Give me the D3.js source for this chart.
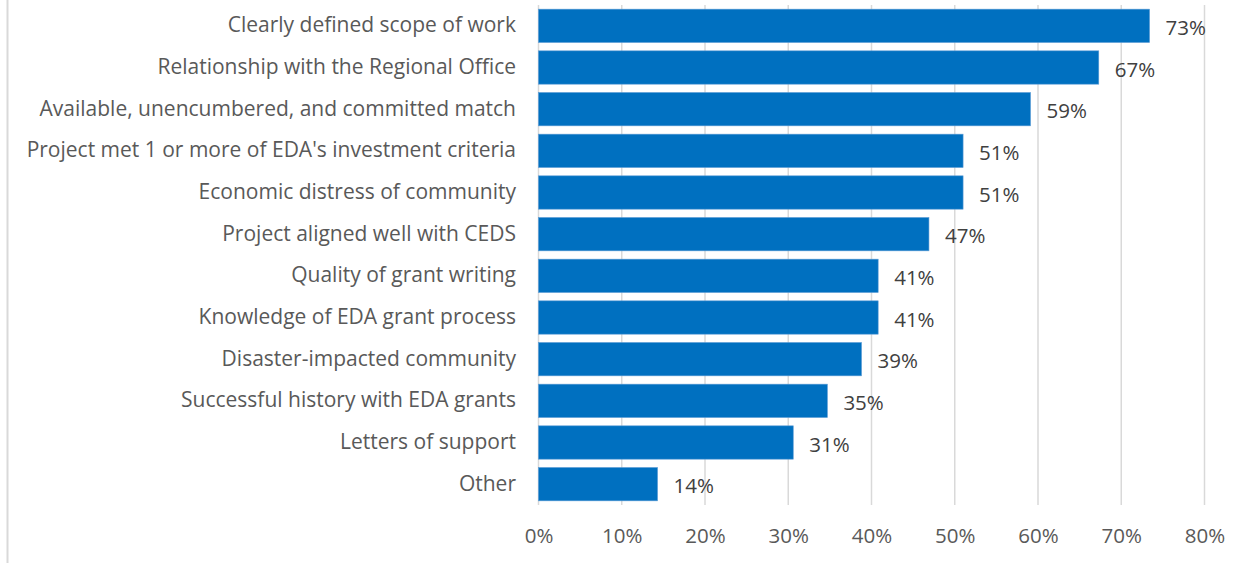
<!DOCTYPE html>
<html>
<head>
  <meta charset="utf-8">
  <script src="https://d3js.org/d3.v7.min.js"></script>
  <style>
    body { margin: 0; background: #fff; }
    svg { display: block; font-family: "Open Sans", sans-serif; }
  </style>
</head>
<body>
<svg id="chart"></svg>
<script>
  var w = 1244, h = 563;

  // data (share of respondents)
  var categories = ["Clearly defined scope of work", "Relationship with the Regional Office",
    "Available, unencumbered, and committed match", "Project met 1 or more of EDA's investment criteria",
    "Economic distress of community", "Project aligned well with CEDS", "Quality of grant writing",
    "Knowledge of EDA grant process", "Disaster-impacted community", "Successful history with EDA grants",
    "Letters of support", "Other"];
  var values = [0.734, 0.673, 0.591, 0.510, 0.510, 0.469, 0.408, 0.408, 0.388, 0.347, 0.306, 0.143];
  var labels = ["73%", "67%", "59%", "51%", "51%", "47%", "41%", "41%", "39%", "35%", "31%", "14%"];
  var ticks = [0, 0.1, 0.2, 0.3, 0.4, 0.5, 0.6, 0.7, 0.8];

  var svg = d3.select("#chart").attr("width", w).attr("height", h);

  // left frame line
  svg.append("line").attr("x1", 7.5).attr("x2", 7.5).attr("y1", 0).attr("y2", h)
    .attr("stroke", "#d9d9d9").attr("stroke-width", 2);

  var x = d3.scaleLinear().domain([0, 0.8]).range([538.5, 1204.5]);
  var y = d3.scaleBand().domain(categories).range([5, 505]).paddingInner(0.2).paddingOuter(0.1);

  // gridlines
  svg.append("g").selectAll("line").data(ticks).join("line")
    .attr("x1", function(d) { return x(d); }).attr("x2", function(d) { return x(d); })
    .attr("y1", 5).attr("y2", 505)
    .attr("stroke", "#d9d9d9").attr("stroke-width", 1.5);

  // bars
  svg.append("g").selectAll("rect").data(values).join("rect")
    .attr("x", x(0))
    .attr("y", function(d, i) { return y(categories[i]); })
    .attr("width", function(d) { return x(d) - x(0); })
    .attr("height", y.bandwidth())
    .attr("fill", "#0070c0")
    .attr("stroke", "#5b9bd5").attr("stroke-width", 0.6);

  // value labels
  svg.append("g").selectAll("text").data(values).join("text")
    .attr("x", function(d) { return x(d) + 16; })
    .attr("y", function(d, i) { return y(categories[i]) + y.bandwidth() / 2 + 2; })
    .attr("dy", "0.35em")
    .attr("font-size", "20.5px").attr("fill", "#404040")
    .text(function(d, i) { return labels[i]; });

  // category labels
  svg.append("g").selectAll("text").data(categories).join("text")
    .attr("x", 516)
    .attr("y", function(d) { return y(d) + y.bandwidth() / 2 - 1; })
    .attr("dy", "0.35em")
    .attr("text-anchor", "end")
    .attr("font-size", "21px").attr("fill", "#595959")
    .text(function(d) { return d; });

  // x axis
  var xAxis = d3.axisBottom(x).tickValues(ticks).tickFormat(d3.format(".0%")).tickSize(0).tickPadding(0);
  var gx = svg.append("g").attr("transform", "translate(0,536)").call(xAxis);
  gx.select(".domain").remove();
  gx.selectAll("text").attr("font-size", "20.5px").attr("fill", "#595959")
    .attr("font-family", "Open Sans, sans-serif").attr("dy", "0.35em");
</script>
</body>
</html>
